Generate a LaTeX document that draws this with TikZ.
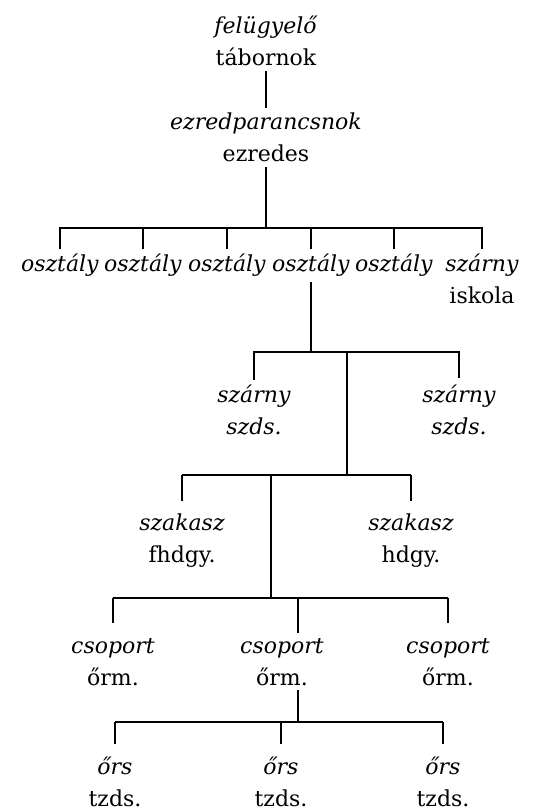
\documentclass[tikz,border=0pt]{standalone}
\usepackage{fontspec}
\setmainfont{DejaVu Serif}

\begin{document}
\begin{tikzpicture}[x=1pt,y=-1pt,line width=2.2pt,
                    rank/.style={align=center,anchor=north,inner xsep=0pt,inner ysep=4pt,
                                 font=\fontsize{22}{32}\selectfont},
                    drop/.style={shorten >=#1},drop/.default=0pt]
\useasboundingbox (0,0) rectangle (550,811);

\node[rank] (fel) at (266,11)  {\textit{felügyelő}\\tábornok};
\node[rank] (ezp) at (266,108) {\textit{ezredparancsnok}\\ezredes};

\node[rank] (o1) at (60,249)  {\textit{osztály}};
\node[rank] (o2) at (143,249) {\textit{osztály}};
\node[rank] (o3) at (227,249) {\textit{osztály}};
\node[rank] (o4) at (311,249) {\textit{osztály}};
\node[rank] (o5) at (394,249) {\textit{osztály}};
\node[rank] (isk) at (482,249) {\textit{szárny}\\iskola};

\node[rank] (sz1) at (254,380) {\textit{szárny}\\\textit{szds.}};
\node[rank] (sz2) at (459,380) {\textit{szárny}\\\textit{szds.}};

\node[rank] (sk1) at (182,509) {\textit{szakasz}\\fhdgy.};
\node[rank] (sk2) at (411,509) {\textit{szakasz}\\hdgy.};

\node[rank] (cs1) at (113,633) {\textit{csoport}\\őrm.};
\node[rank] (cs2) at (282,633) {\textit{csoport}\\őrm.};
\node[rank] (cs3) at (448,633) {\textit{csoport}\\őrm.};

\node[rank] (or1) at (115,752) {\textit{őrs}\\tzds.};
\node[rank] (or2) at (281,752) {\textit{őrs}\\tzds.};
\node[rank] (or3) at (443,752) {\textit{őrs}\\tzds.};

% junctions of the bars
\coordinate (j1) at (266,228);
\coordinate (j2) at (311,352);
\coordinate (j3) at (347,475);
\coordinate (j4) at (271,598);
\coordinate (j5) at (298,722);

\draw (fel) -- (ezp);
\draw (ezp) -- (j1);
\draw (o1) |- (j1) -| (isk);
\draw (o2 |- j1) -- (o2);
\draw (o3 |- j1) -- (o3);
\draw (o4 |- j1) -- (o4);
\draw (o5 |- j1) -- (o5);

\draw (o4) -- (j2);
\draw[drop=2pt] (sz1) |- (j2) -| (sz2);
\draw (j3 |- j2) -- (j3);

\draw[drop=8pt] (sk1 |- j3) -- (sk1);
\draw[drop=8pt] (sk2 |- j3) -- (sk2);
\draw (sk1 |- j3) -- (sk2 |- j3);
\draw (j4 |- j3) -- (j4);

\draw[drop=10pt] (cs1 |- j4) -- (cs1);
\draw[drop=10pt] (cs3 |- j4) -- (cs3);
\draw (cs1 |- j4) -- (cs3 |- j4);
\draw (j5 |- j4) -- (j5 |- cs2.north);

\draw (j5 |- cs2.south) -- (j5);
\draw[drop=8pt] (or1 |- j5) -- (or1);
\draw[drop=8pt] (or2 |- j5) -- (or2);
\draw[drop=8pt] (or3 |- j5) -- (or3);
\draw (or1 |- j5) -- (or3 |- j5);
\end{tikzpicture}
\end{document}
